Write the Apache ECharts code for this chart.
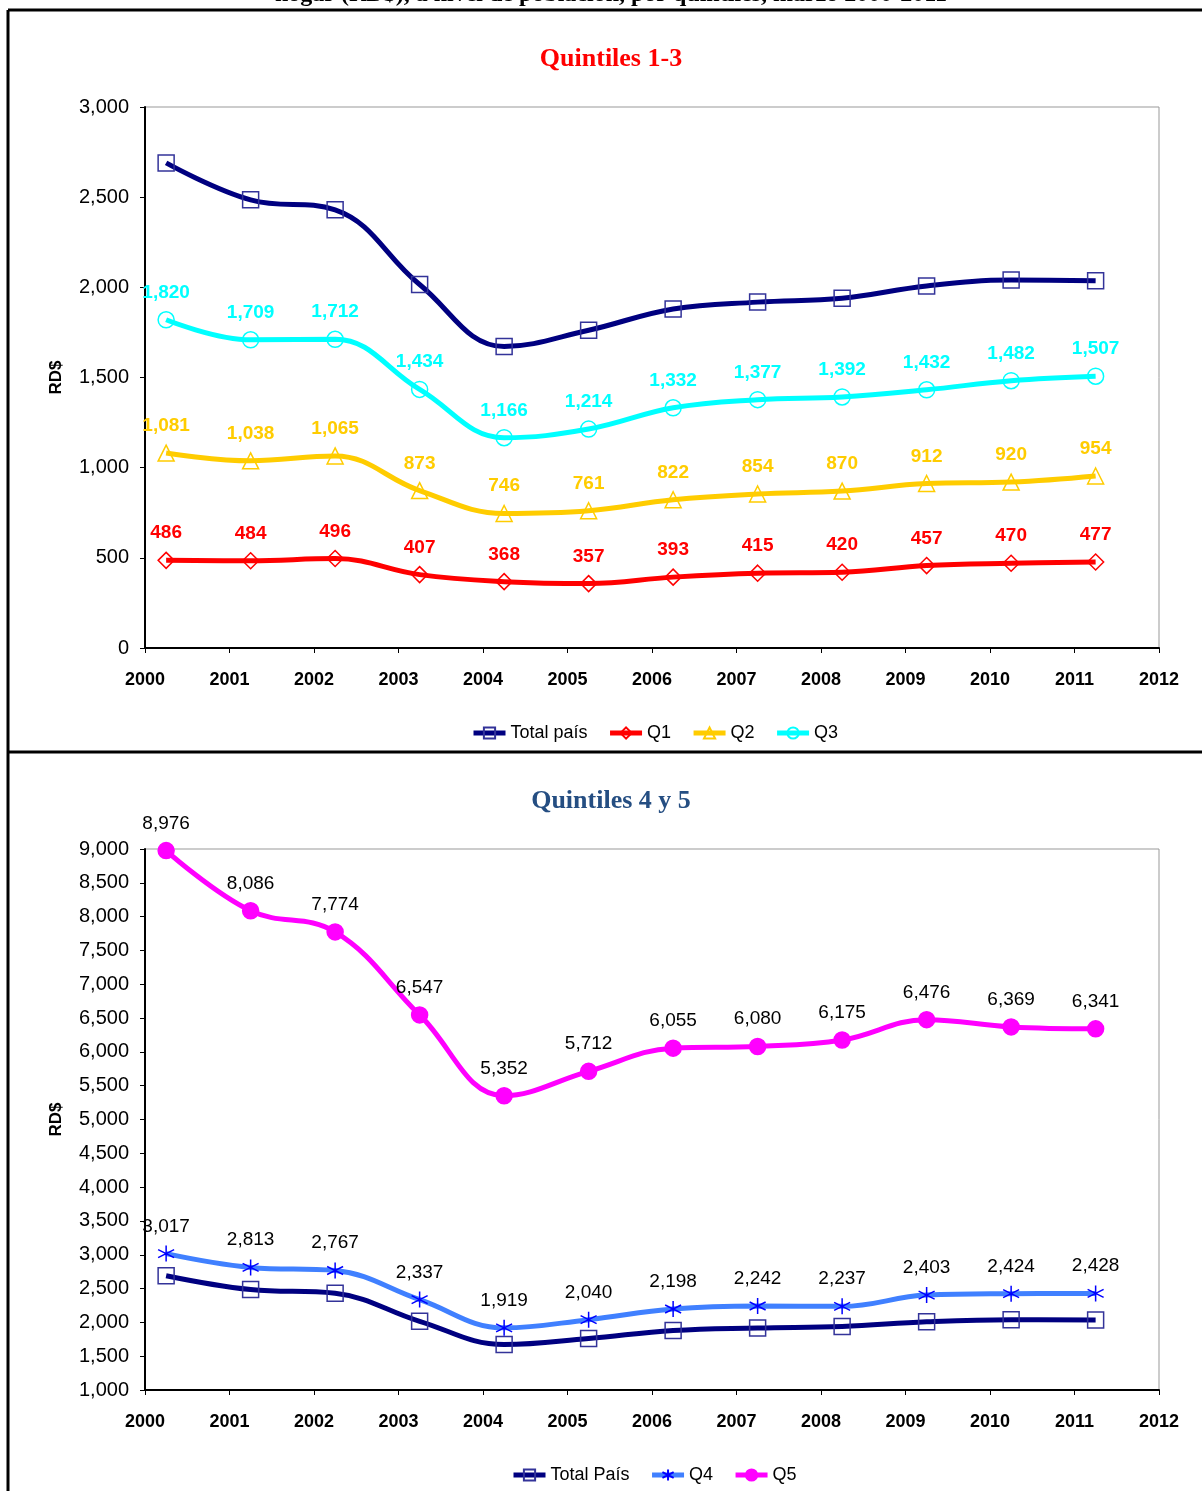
<!DOCTYPE html>
<html>
<head>
<meta charset="UTF-8" />
<script src="https://cdn.jsdelivr.net/npm/echarts@6/dist/echarts.min.js"></script>
<style type="text/css">
    *{ margin: 0; padding: 0; }
    body{ background: #fff; }
    #main{ width: 1202px; height: 1491px; }
</style>
</head>
<body>
<div id="main"></div>
<script type="text/javascript">
    // posicion de cada punto: marzo de cada año
    var periodos = [2000.25, 2001.25, 2002.25, 2003.25, 2004.25, 2005.25, 2006.25, 2007.25, 2008.25, 2009.25, 2010.25, 2011.25];
    var totalPais = [2690, 2485, 2430, 2016, 1672, 1762, 1880, 1918, 1940, 2008, 2040, 2036];
    var q1 = [486, 484, 496, 407, 368, 357, 393, 415, 420, 457, 470, 477];
    var q2 = [1081, 1038, 1065, 873, 746, 761, 822, 854, 870, 912, 920, 954];
    var q3 = [1820, 1709, 1712, 1434, 1166, 1214, 1332, 1377, 1392, 1432, 1482, 1507];
    var q4 = [3017, 2813, 2767, 2337, 1919, 2040, 2198, 2242, 2237, 2403, 2424, 2428];
    var q5 = [8976, 8086, 7774, 6547, 5352, 5712, 6055, 6080, 6175, 6476, 6369, 6341];

    var SANS = 'Liberation Sans, Arial, sans-serif';
    var SERIF = 'Liberation Serif, Times New Roman, serif';

    function pares(vals) {
        var out = [];
        for (var i = 0; i < vals.length; i++) out.push([periodos[i], vals[i]]);
        return out;
    }
    function fmt(v) { return Number(v).toLocaleString('en-US'); }

    // serie de linea suavizada estilo Excel
    function serie(name, vals, idx, lineColor, symbol, mark, fill, label) {
        return {
            name: name,
            type: 'line',
            xAxisIndex: idx,
            yAxisIndex: idx,
            data: pares(vals),
            smooth: 0.4,
            symbol: symbol,
            symbolSize: 16,
            lineStyle: { color: lineColor, width: 5 },
            itemStyle: { color: fill, borderColor: mark, borderWidth: 1.5 },
            label: label ? {
                show: true,
                position: 'top',
                distance: 9,
                color: label.color,
                fontFamily: SANS,
                fontSize: 19,
                fontWeight: label.bold ? 'bold' : 'normal',
                formatter: function (p) { return fmt(p.value[1]); }
            } : { show: false },
            z: 3
        };
    }

    function ejeX(idx) {
        return {
            type: 'value', gridIndex: idx, min: 2000, max: 2012, interval: 1,
            axisLine: { show: true, onZero: false, lineStyle: { color: '#000', width: 2 } },
            axisTick: { show: true, length: 5, lineStyle: { color: '#000', width: 1 } },
            axisLabel: { margin: 23, color: '#000', fontFamily: SANS, fontSize: 18, fontWeight: 'bold',
                formatter: function (v) { return String(v); } },
            splitLine: { show: false }
        };
    }
    function ejeY(idx, min, max) {
        return {
            type: 'value', gridIndex: idx, min: min, max: max, interval: 500,
            name: 'RD$', nameLocation: 'middle', nameGap: 80,
            nameTextStyle: { color: '#000', fontFamily: SANS, fontSize: 17, fontWeight: 'bold' },
            axisLine: { show: true, lineStyle: { color: '#000', width: 2 } },
            axisTick: { show: true, length: 5, lineStyle: { color: '#000', width: 1 } },
            axisLabel: { margin: 16, color: '#000', fontFamily: SANS, fontSize: 20, formatter: fmt },
            splitLine: { show: false }
        };
    }

    var asterisco = 'path://M10,0L10,20M1.34,5L18.66,15M1.34,15L18.66,5';
    var transp = 'rgba(0,0,0,0)';
    var leyendaTexto = { color: '#000', fontFamily: SANS, fontSize: 18 };

    var myChart = echarts.init(document.getElementById('main'));
    var option = {
        animation: false,
        backgroundColor: '#fff',
        graphic: [
            { type: 'line', shape: { x1: 8, y1: 10, x2: 1202, y2: 10 }, style: { stroke: '#000', lineWidth: 3 } },
            { type: 'line', shape: { x1: 8, y1: 752, x2: 1202, y2: 752 }, style: { stroke: '#000', lineWidth: 3 } },
            { type: 'line', shape: { x1: 8, y1: 10, x2: 8, y2: 1491 }, style: { stroke: '#000', lineWidth: 3 } },
            { type: 'text', x: 611, y: 7, style: { text: 'hogar (RD$), a nivel de población, por quintiles, marzo 2000-2011',
                fill: '#000', font: 'bold 24px ' + SERIF, textAlign: 'center', textVerticalAlign: 'bottom' } },
            { type: 'text', x: 611, y: 59, style: { text: 'Quintiles 1-3', fill: '#FF0000',
                font: 'bold 26px ' + SERIF, textAlign: 'center', textVerticalAlign: 'middle' } },
            { type: 'text', x: 611, y: 801, style: { text: 'Quintiles 4 y 5', fill: '#254E82',
                font: 'bold 26px ' + SERIF, textAlign: 'center', textVerticalAlign: 'middle' } }
        ],
        grid: [
            { left: 145, top: 107, width: 1014, height: 541, show: true, borderColor: '#999', borderWidth: 1, backgroundColor: transp },
            { left: 145, top: 849, width: 1014, height: 541, show: true, borderColor: '#999', borderWidth: 1, backgroundColor: transp }
        ],
        xAxis: [ejeX(0), ejeX(1)],
        yAxis: [ejeY(0, 0, 3000), ejeY(1, 1000, 9000)],
        legend: [
            { left: 466, top: 719, itemWidth: 32, itemHeight: 14, itemGap: 20,
              lineStyle: { width: 5 }, textStyle: leyendaTexto,
              data: ['Total país', 'Q1', 'Q2', 'Q3'] },
            { left: 506, top: 1461, itemWidth: 32, itemHeight: 14, itemGap: 20,
              lineStyle: { width: 5 }, textStyle: leyendaTexto,
              data: ['Total País', 'Q4', 'Q5'] }
        ],
        series: [
            serie('Total país', totalPais, 0, '#000080', 'rect', '#333399', transp, null),
            serie('Q1', q1, 0, '#FF0000', 'diamond', '#FF0000', transp, { color: '#FF0000', bold: true }),
            serie('Q2', q2, 0, '#FFCC00', 'triangle', '#FFCC00', transp, { color: '#FFCC00', bold: true }),
            serie('Q3', q3, 0, '#00FFFF', 'circle', '#00FFFF', transp, { color: '#00FFFF', bold: true }),
            serie('Total País', totalPais, 1, '#000080', 'rect', '#333399', transp, null),
            serie('Q4', q4, 1, '#4080FF', asterisco, '#0000FF', transp, { color: '#000', bold: false }),
            serie('Q5', q5, 1, '#FF00FF', 'circle', '#FF00FF', '#FF00FF', { color: '#000', bold: false })
        ]
    };
    myChart.setOption(option);
</script>
</body>
</html>
